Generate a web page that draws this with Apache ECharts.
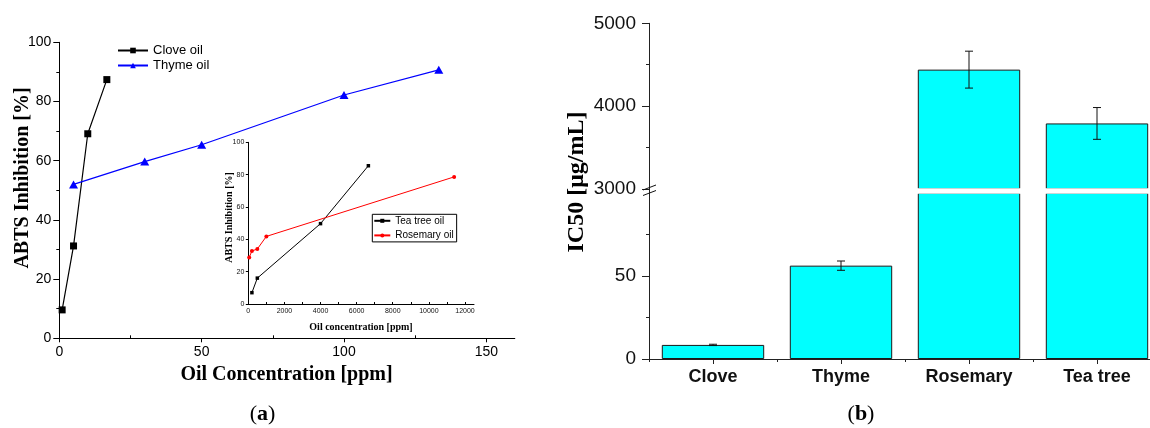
<!DOCTYPE html>
<html><head><meta charset="utf-8">
<script src="https://cdn.jsdelivr.net/npm/echarts@6/dist/echarts.min.js"></script>
<style>html,body{margin:0;padding:0;background:#fff;overflow:hidden}#c{width:1162px;height:428px}</style>
</head><body><div id="c"></div>
<script>
// ---- Panel (a): main chart ----
const cloveX = [1, 5, 10, 16.7];
const cloveY = [9.6, 31.2, 69.1, 87.4];
const thymeX = [5, 30, 50, 100, 133.3];
const thymeY = [52, 59.7, 65.4, 82.2, 90.7];
const mainXTicks = [0, 50, 100, 150];
const mainXMinorTicks = [25, 75, 125];
const mainXLabels = [0, 50, 100, 150];
// ---- Panel (a): inset ----
const teaX = [200, 500, 4000, 6650];
const teaY = [7, 16, 49.7, 85.5];
const rosX = [50, 200, 500, 1000, 11400];
const rosY = [28.8, 32.8, 34, 41.8, 78.6];
const insetXTicks = [0,1000,2000,3000,4000,5000,6000,7000,8000,9000,10000,11000,12000];
const insetXLabels = [0,2000,4000,6000,8000,10000,12000];
// ---- Panel (b): IC50 bars ----
const categories = ['Clove', 'Thyme', 'Rosemary', 'Tea tree'];
const ic50 = [8.5, 56.3, 4440, 3790];
const ic50Err = [0.4, 2.8, 223, 192];
const lowMax = 100;     // top of lower axis segment
const highMin = 3000;   // bottom of upper axis segment
const lowTicks = [0, 50];

const chart = echarts.init(document.getElementById('c'), null, {renderer: 'canvas'});
const sans = 'Liberation Sans';
const serif = 'Liberation Serif';
const blk = '#000';
const dk = '#222';
const plain = v => String(v);

function errItem(params, api) {
  const x = api.value(0), lo = api.value(1), hi = api.value(2);
  const p1 = api.coord([x, hi]), p2 = api.coord([x, lo]);
  const w = 4;
  const st = {stroke: '#111', lineWidth: 1};
  return {type: 'group', children: [
    {type: 'line', shape: {x1: p1[0], y1: p1[1], x2: p2[0], y2: p2[1]}, style: st},
    {type: 'line', shape: {x1: p1[0]-w, y1: p1[1], x2: p1[0]+w, y2: p1[1]}, style: st},
    {type: 'line', shape: {x1: p2[0]-w, y1: p2[1], x2: p2[0]+w, y2: p2[1]}, style: st}
  ]};
}

const errHigh = [], errLow = [];
categories.forEach((c, i) => {
  const d = [i, ic50[i] - ic50Err[i], ic50[i] + ic50Err[i]];
  if (ic50[i] >= highMin) errHigh.push(d); else errLow.push(d);
});

const gapTop = 188.2, gapBot = 193.8;

const option = {
  animation: false,
  backgroundColor: '#fff',
  grid: [
    {left: 59.3, top: 42.3, width: 455.5, height: 296},
    {left: 248.3, top: 142.3, width: 225.7, height: 161.7},
    {left: 649, top: 23.3, width: 512, height: 165.5},
    {left: 649, top: 193.2, width: 512, height: 165.8},
    {left: 649, top: 193.2, width: 512, height: 165.8},
    {left: 59.3, top: 42.3, width: 455.5, height: 296}
  ],
  legend: [
    {data: ['Clove oil', 'Thyme oil'], orient: 'vertical', left: 117, top: 44, padding: 0,
     itemWidth: 30, itemHeight: 7, itemGap: 2,
     textStyle: {fontSize: 13, color: blk, fontFamily: sans}},
    {data: ['Tea tree oil', 'Rosemary oil'], orient: 'vertical', left: 372.3, top: 214.3,
     padding: [1.5, 3, 1.5, 1], itemWidth: 16, itemHeight: 5, itemGap: 4.6,
     borderColor: '#000', borderWidth: 1,
     textStyle: {fontSize: 10, color: blk, fontFamily: sans}}
  ],
  xAxis: [
    {type: 'value', gridIndex: 0, min: 0, max: 160, interval: 50,
     axisLine: {show: true, lineStyle: {color: blk, width: 1}},
     axisTick: {show: true, length: 4, customValues: mainXTicks, lineStyle: {color: blk}},
     axisLabel: {customValues: mainXLabels, formatter: plain, fontSize: 14, color: blk, margin: 7, fontFamily: sans},
     splitLine: {show: false}},
    {type: 'value', gridIndex: 1, min: 0, max: 12500, interval: 2000,
     axisLine: {show: true, lineStyle: {color: blk, width: 1}},
     axisTick: {show: true, inside: true, length: 2, customValues: insetXTicks, lineStyle: {color: blk}},
     axisLabel: {customValues: insetXLabels, formatter: plain, fontSize: 7, color: '#111', margin: 4, fontFamily: sans},
     splitLine: {show: false}},
    {type: 'category', gridIndex: 2, data: categories, show: false},
    {type: 'category', gridIndex: 3, data: categories,
     axisLine: {show: true, lineStyle: {color: dk, width: 1}},
     axisTick: {show: true, alignWithLabel: true, length: 5, lineStyle: {color: dk}},
     axisLabel: {fontSize: 18, fontWeight: 'bold', color: '#111', margin: 9, fontFamily: sans}},
    {type: 'category', gridIndex: 4, data: categories,
     axisLine: {show: false},
     axisTick: {show: true, length: 3, lineStyle: {color: dk}},
     axisLabel: {show: false}},
    {type: 'value', gridIndex: 5, min: 0, max: 160,
     axisLine: {show: false},
     axisTick: {show: true, inside: true, length: 3, customValues: mainXMinorTicks, lineStyle: {color: blk}},
     axisLabel: {show: false}, splitLine: {show: false}}
  ],
  yAxis: [
    {type: 'value', gridIndex: 0, min: 0, max: 100, interval: 20,
     axisLine: {show: true, lineStyle: {color: blk, width: 1}},
     axisTick: {show: true, length: 6, lineStyle: {color: blk}},
     minorTick: {show: true, splitNumber: 2, length: 3, lineStyle: {color: blk}},
     axisLabel: {formatter: plain, fontSize: 14, color: blk, margin: 8, fontFamily: sans},
     splitLine: {show: false}},
    {type: 'value', gridIndex: 1, min: 0, max: 100, interval: 20,
     axisLine: {show: true, lineStyle: {color: blk, width: 1}},
     axisTick: {show: true, length: 2.5, lineStyle: {color: blk}},
     axisLabel: {formatter: plain, fontSize: 7, color: '#111', margin: 4, fontFamily: sans},
     splitLine: {show: false}},
    {type: 'value', gridIndex: 2, min: highMin, max: 5000, interval: 1000,
     axisLine: {show: true, lineStyle: {color: dk, width: 1}},
     axisTick: {show: true, length: 7, lineStyle: {color: dk}},
     minorTick: {show: true, splitNumber: 2, length: 3, lineStyle: {color: dk}},
     axisLabel: {formatter: plain, fontSize: 19, color: '#111', margin: 13, fontFamily: sans},
     splitLine: {show: false}},
    {type: 'value', gridIndex: 3, min: 0, max: lowMax, interval: 50,
     axisLine: {show: true, lineStyle: {color: dk, width: 1}},
     axisTick: {show: true, length: 7, customValues: lowTicks, lineStyle: {color: dk}},
     minorTick: {show: true, splitNumber: 2, length: 3, lineStyle: {color: dk}},
     axisLabel: {customValues: lowTicks, formatter: plain, fontSize: 19, color: '#111', margin: 13, fontFamily: sans},
     splitLine: {show: false}},
    {type: 'value', gridIndex: 4, show: false},
    {type: 'value', gridIndex: 5, show: false}
  ],
  series: [
    {type: 'line', name: 'Clove oil', xAxisIndex: 0, yAxisIndex: 0,
     data: cloveX.map((x, i) => [x, cloveY[i]]),
     symbol: 'rect', symbolSize: 7, lineStyle: {color: '#000', width: 1.2},
     itemStyle: {color: '#000'}},
    {type: 'line', name: 'Thyme oil', xAxisIndex: 0, yAxisIndex: 0,
     data: thymeX.map((x, i) => [x, thymeY[i]]),
     symbol: 'triangle', symbolSize: [9, 8], lineStyle: {color: '#0000ff', width: 1.2},
     itemStyle: {color: '#0000ff'}},
    {type: 'line', name: 'Tea tree oil', xAxisIndex: 1, yAxisIndex: 1,
     data: teaX.map((x, i) => [x, teaY[i]]),
     symbol: 'rect', symbolSize: 3.5, lineStyle: {color: '#000', width: 1},
     itemStyle: {color: '#000'}},
    {type: 'line', name: 'Rosemary oil', xAxisIndex: 1, yAxisIndex: 1,
     data: rosX.map((x, i) => [x, rosY[i]]),
     symbol: 'circle', symbolSize: 4, lineStyle: {color: '#ff0000', width: 1},
     itemStyle: {color: '#ff0000'}},
    {type: 'bar', xAxisIndex: 2, yAxisIndex: 2,
     data: ic50.map(v => v >= highMin ? v : '-'),
     barCategoryGap: '20%', clip: true,
     itemStyle: {color: '#00ffff', borderColor: '#1a1a1a', borderWidth: 1}},
    {type: 'bar', xAxisIndex: 3, yAxisIndex: 3,
     data: ic50.slice(),
     barCategoryGap: '20%', clip: true,
     itemStyle: {color: '#00ffff', borderColor: '#1a1a1a', borderWidth: 1}},
    {type: 'custom', xAxisIndex: 2, yAxisIndex: 2, renderItem: errItem,
     encode: {x: 0, y: [1, 2]}, data: errHigh, z: 5},
    {type: 'custom', xAxisIndex: 3, yAxisIndex: 3, renderItem: errItem,
     encode: {x: 0, y: [1, 2]}, data: errLow, z: 5}
  ],
  graphic: [
    {type: 'rect', z: 100, shape: {x: 650, y: gapTop, width: 520, height: gapBot - gapTop},
     style: {fill: '#fff'}},
    {type: 'line', z: 101, shape: {x1: 649.5, y1: 187, x2: 649.5, y2: 195},
     style: {stroke: dk, lineWidth: 1}},
    {type: 'line', z: 101, shape: {x1: 643, y1: 190, x2: 656, y2: 185},
     style: {stroke: '#111', lineWidth: 1}},
    {type: 'line', z: 101, shape: {x1: 643, y1: 195.5, x2: 656, y2: 190.5},
     style: {stroke: '#111', lineWidth: 1}},
    {type: 'text', z: 101, x: 23, y: 178, rotation: Math.PI / 2,
     style: {text: 'ABTS Inhibition [%]', font: 'bold 20px "Liberation Serif"', fill: '#000',
             align: 'center', verticalAlign: 'middle', textAlign: 'center', textVerticalAlign: 'middle'}},
    {type: 'text', z: 101, x: 286.5, y: 375,
     style: {text: 'Oil Concentration [ppm]', font: 'bold 20px "Liberation Serif"', fill: '#000',
             align: 'center', verticalAlign: 'middle', textAlign: 'center', textVerticalAlign: 'middle'}},
    {type: 'text', z: 101, x: 229, y: 217.5, rotation: Math.PI / 2,
     style: {text: 'ABTS Inhibition [%]', font: 'bold 10px "Liberation Serif"', fill: '#000',
             align: 'center', verticalAlign: 'middle', textAlign: 'center', textVerticalAlign: 'middle'}},
    {type: 'text', z: 101, x: 361, y: 327.5,
     style: {text: 'Oil concentration [ppm]', font: 'bold 10px "Liberation Serif"', fill: '#000',
             align: 'center', verticalAlign: 'middle', textAlign: 'center', textVerticalAlign: 'middle'}},
    {type: 'text', z: 101, x: 577, y: 182, rotation: Math.PI / 2,
     style: {text: 'IC50 [μg/mL]', font: 'bold 24px "Liberation Serif"', fill: '#000',
             align: 'center', verticalAlign: 'middle', textAlign: 'center', textVerticalAlign: 'middle'}},
    {type: 'text', z: 101, x: 262.5, y: 414,
     style: {text: '({b|a})', font: '22px "Liberation Serif"', fill: '#000',
             rich: {b: {fontWeight: 'bold', fontSize: 22, fontFamily: serif}},
             align: 'center', verticalAlign: 'middle', textAlign: 'center', textVerticalAlign: 'middle'}},
    {type: 'text', z: 101, x: 861, y: 414,
     style: {text: '({b|b})', font: '22px "Liberation Serif"', fill: '#000',
             rich: {b: {fontWeight: 'bold', fontSize: 22, fontFamily: serif}},
             align: 'center', verticalAlign: 'middle', textAlign: 'center', textVerticalAlign: 'middle'}}
  ]
};
chart.setOption(option);
</script>
</body></html>
